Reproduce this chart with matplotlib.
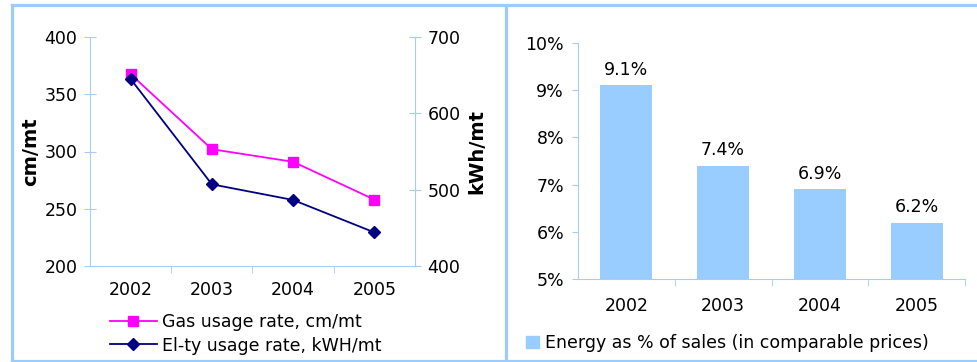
import matplotlib.pyplot as plt
from matplotlib.lines import Line2D
from matplotlib.patches import Patch

# data
years = ["2002", "2003", "2004", "2005"]
gas_rate = [367.5, 302, 291, 258]        # cm/mt
elec_rate = [645, 507, 486.5, 444]       # kWh/mt
energy_share = [9.1, 7.4, 6.9, 6.2]      # % of sales

W, H = 977, 362
axis_col = "#a6cdf5"
frame_col = "#9fcbf7"
bar_col = "#99ccff"

plt.rcParams["font.family"] = "DejaVu Sans"
plt.rcParams["font.size"] = 12.5

fig = plt.figure(figsize=(W / 100, H / 100), dpi=100)


def px(x0, y0, x1, y1):
    # pixel box (top-left origin) -> figure fraction rect
    return [x0 / W, 1 - y1 / H, (x1 - x0) / W, (y1 - y0) / H]


# panel frames
frame = dict(color=frame_col, lw=2.3, transform=fig.transFigure, clip_on=False)
fig.add_artist(Line2D([12 / W, 12 / W], [1 - 5 / H, 1 - 361 / H], **frame))
fig.add_artist(Line2D([505.5 / W, 505.5 / W], [1 - 5 / H, 1 - 361 / H], **frame))
fig.add_artist(Line2D([12 / W, 1], [1 - 5 / H, 1 - 5 / H], **frame))
fig.add_artist(Line2D([12 / W, 1], [1 - 360.8 / H, 1 - 360.8 / H], **frame))

# ---------------- left: usage rates ----------------
ax = fig.add_axes(px(90, 37, 415, 266))
x = range(len(years))
ax.plot(x, gas_rate, color="#ff00ff", lw=1.3, marker="s", ms=7,
        label="Gas usage rate, cm/mt")
ax.set_xlim(-0.5, 3.5)
ax.set_ylim(200, 400)
ax.set_yticks([200, 250, 300, 350, 400])
ax.set_ylabel("cm/mt", fontweight="bold", fontsize=14, labelpad=3)

ax2 = ax.twinx()
ax2.plot(x, elec_rate, color="#000080", lw=1.3, marker="D", ms=6.5,
         label="El-ty usage rate, kWH/mt")
ax2.set_ylim(400, 700)
ax2.set_yticks([400, 500, 600, 700])
ax2.set_ylabel("kWh/mt", fontweight="bold", fontsize=14, labelpad=5)

ax.set_xticks(list(x))
ax.set_xticklabels(years)
ax.set_xticks([0.5, 1.5, 2.5], minor=True)
ax.tick_params(axis="x", which="major", length=0, pad=11)
ax.tick_params(axis="x", which="minor", length=5, direction="out", color=axis_col)
ax.tick_params(axis="y", length=8, direction="inout", color=axis_col, pad=5)
ax2.tick_params(axis="y", length=8, direction="inout", color=axis_col, pad=5)

for a in (ax, ax2):
    for s in a.spines.values():
        s.set_color(axis_col)
    a.spines["top"].set_visible(False)
ax.spines["right"].set_visible(False)
ax2.spines["left"].set_visible(False)
ax2.spines["bottom"].set_visible(False)

handles = ax.get_lines() + ax2.get_lines()
fig.legend(handles, [h.get_label() for h in handles], loc="upper left",
           bbox_to_anchor=(110 / W, 1 - 313 / H), frameon=False,
           handlelength=2.7, handletextpad=0.3, labelspacing=0.32,
           borderaxespad=0, borderpad=0)

# ---------------- right: energy share ----------------
bx = fig.add_axes(px(578, 42.7, 965, 279.3))
bars = bx.bar(x, energy_share, width=0.54, color=bar_col,
              label="Energy as % of sales (in comparable prices)")
bx.set_xlim(-0.5, 3.5)
bx.set_ylim(5, 10)
bx.set_yticks([5, 6, 7, 8, 9, 10])
bx.set_yticklabels([f"{v}%" for v in range(5, 11)])
bx.set_xticks(list(x))
bx.set_xticklabels(years)
bx.set_xticks([0.5, 1.5, 2.5, 3.5], minor=True)
bx.tick_params(axis="x", which="major", length=0, pad=13)
bx.tick_params(axis="x", which="minor", length=5, direction="out", color=axis_col)
bx.tick_params(axis="y", length=4, direction="out", color=axis_col, pad=6)
for s in ("top", "right"):
    bx.spines[s].set_visible(False)
for s in ("left", "bottom"):
    bx.spines[s].set_color(axis_col)
for b, v in zip(bars, energy_share):
    bx.text(b.get_x() + b.get_width() / 2, v + 0.22, f"{v}%",
            ha="center", va="baseline")

fig.legend(handles=[Patch(color=bar_col)],
           labels=["Energy as % of sales (in comparable prices)"],
           loc="upper left", bbox_to_anchor=(526 / W, 1 - 334 / H),
           frameon=False, handlelength=0.75, handleheight=0.75,
           handletextpad=0.35, borderaxespad=0, borderpad=0)

fig.savefig("out.png", dpi=100)
